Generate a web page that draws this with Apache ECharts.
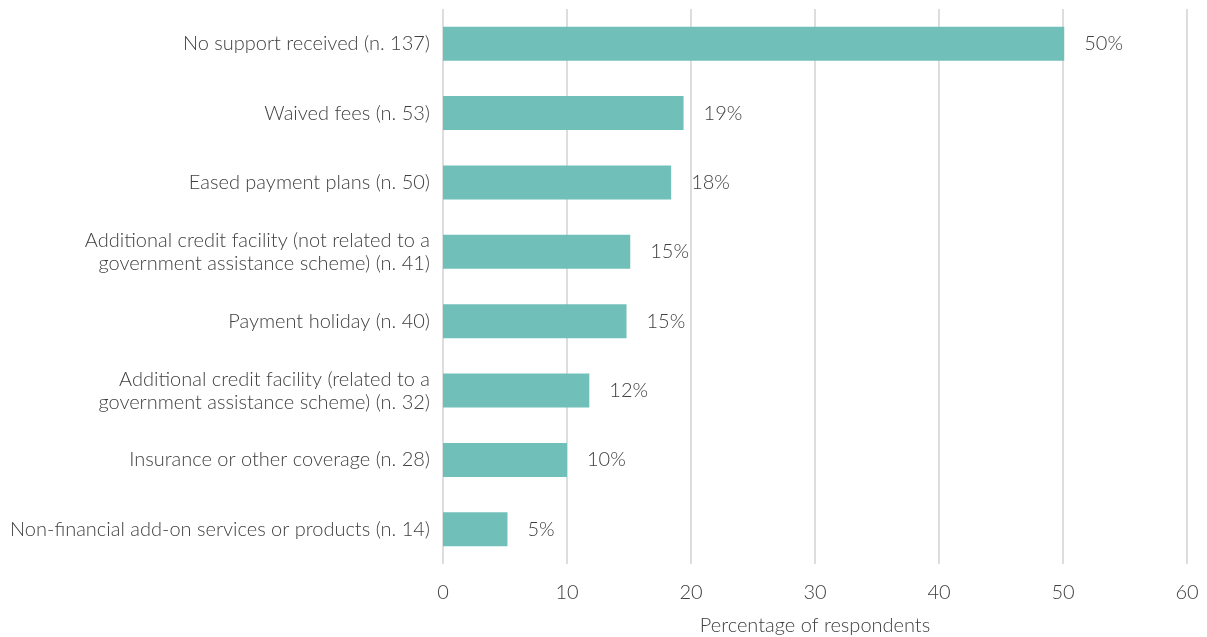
<!DOCTYPE html>
<html>
<head>
<meta charset="utf-8">
<script src="https://cdn.jsdelivr.net/npm/echarts@6/dist/echarts.min.js"></script>
<style>
  html, body { margin: 0; padding: 0; background: #fff; }
  #chart { width: 1207px; height: 637px; }
</style>
</head>
<body>
<div id="chart"></div>
<script>
// Support received, listed top to bottom
const categories = [
  'No support received (n. 137)',
  'Waived fees (n. 53)',
  'Eased payment plans (n. 50)',
  'Additional credit facility (not related to a\ngovernment assistance scheme) (n. 41)',
  'Payment holiday (n. 40)',
  'Additional credit facility (related to a\ngovernment assistance scheme) (n. 32)',
  'Insurance or other coverage (n. 28)',
  'Non-financial add-on services or products (n. 14)'
];
// Share of respondents, %
const values = [50.1, 19.4, 18.4, 15.1, 14.8, 11.8, 10.0, 5.2];
const xTicks = [0, 10, 20, 30, 40, 50, 60];

const textColor = '#404040';
const font = 'Lato, "Open Sans", sans-serif';

const chart = echarts.init(document.getElementById('chart'));
chart.setOption({
  animation: false,
  grid: { left: 443, right: 20, top: 9, bottom: 73, outerBoundsMode: 'none' },
  xAxis: {
    type: 'value',
    min: xTicks[0],
    max: xTicks[xTicks.length - 1],
    interval: 10,
    name: 'Percentage of respondents',
    nameLocation: 'middle',
    nameGap: 52,
    nameTextStyle: { color: textColor, fontFamily: font, fontWeight: 300, fontSize: 20 },
    axisLine: { show: false },
    axisTick: { show: false },
    axisLabel: { color: textColor, fontFamily: font, fontWeight: 300, fontSize: 20, margin: 19 },
    splitLine: { show: true, lineStyle: { color: '#dddddd', width: 2 } }
  },
  yAxis: {
    type: 'category',
    inverse: true,
    data: categories,
    axisLine: { show: false },
    axisTick: { show: false },
    axisLabel: {
      color: textColor, fontFamily: font, fontWeight: 300, fontSize: 20,
      margin: 13, align: 'right', lineHeight: 23
    }
  },
  series: [{
    type: 'bar',
    data: values,
    barWidth: 34,
    itemStyle: { color: '#70bfb8' },
    label: {
      show: true,
      position: 'right',
      distance: 20,
      color: textColor, fontFamily: font, fontWeight: 300, fontSize: 20,
      formatter: p => Math.round(p.value) + '%'
    }
  }]
});
</script>
</body>
</html>
